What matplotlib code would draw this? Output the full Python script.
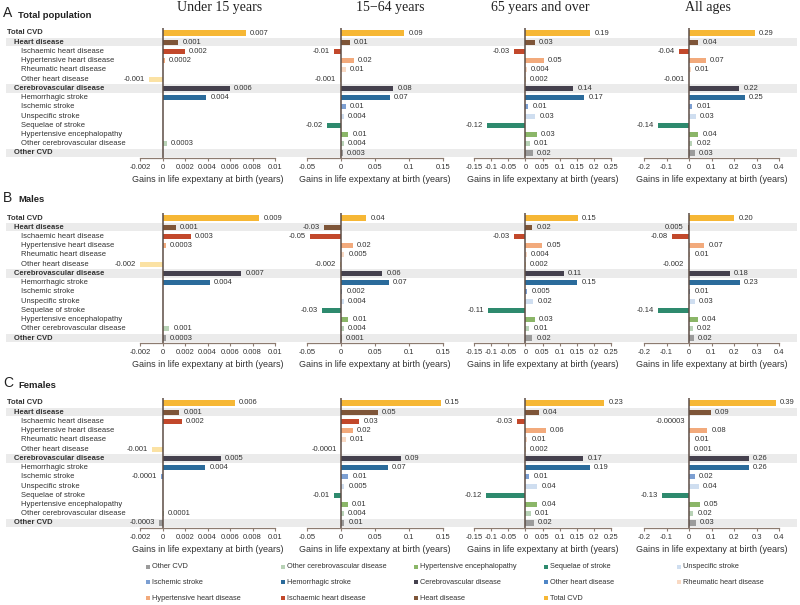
import matplotlib.pyplot as plt
from matplotlib.patches import Rectangle

plt.rcParams['font.family'] = ['Liberation Sans Narrow', 'Liberation Sans', 'DejaVu Sans']

W, H = 800, 605

causes = ['Total CVD', 'Heart disease', 'Ischaemic heart disease', 'Hypertensive heart disease',
          'Rheumatic heart disease', 'Other heart disease', 'Cerebrovascular disease',
          'Hemorrhagic stroke', 'Ischemic stroke', 'Unspecific stroke', 'Sequelae of stroke',
          'Hypertensive encephalopathy', 'Other cerebrovascular disease', 'Other CVD']
levels = [0, 1, 2, 2, 2, 2, 1, 2, 2, 2, 2, 2, 2, 1]
bold_rows = [0, 1, 6, 13]
band_rows = [1, 6, 13]
colors = ['#F6B735', '#7E5538', '#C2482B', '#F2AA7C', '#F9D9C3', '#FBE2A4', '#45414E',
          '#2B6B9B', '#7C9FD2', '#CFDEF0', '#2E8A6E', '#8BB668', '#B8D2B6', '#9B9B9B']

ages = ['Under 15 years', '15\u221264 years', '65 years and over', 'All ages']
sections = ['Total population', 'Males', 'Females']
letters = ['A', 'B', 'C']

# values (years) and printed labels, rows in the order of `causes`
tot_u15_v = [0.0074, 0.0014, 0.0020, 0.0002, None, -0.0012, 0.0060, 0.0039, None, None, None, None, 0.0004, None]
tot_u15_t = ['0.007', '0.001', '0.002', '0.0002', None, '-0.001', '0.006', '0.004', None, None, None, None, '0.0003', None]
tot_1564_v = [0.093, 0.013, -0.010, 0.019, 0.007, -0.001, 0.077, 0.072, 0.007, 0.004, -0.020, 0.011, 0.004, 0.003]
tot_1564_t = ['0.09', '0.01', '-0.01', '0.02', '0.01', '-0.001', '0.08', '0.07', '0.01', '0.004', '-0.02', '0.01', '0.004', '0.003']
tot_65_v = [0.190, 0.027, -0.034, 0.053, 0.004, 0.002, 0.140, 0.172, 0.008, 0.029, -0.113, 0.033, 0.013, 0.021]
tot_65_t = ['0.19', '0.03', '-0.03', '0.05', '0.004', '0.002', '0.14', '0.17', '0.01', '0.03', '-0.12', '0.03', '0.01', '0.02']
tot_all_v = [0.293, 0.041, -0.043, 0.074, 0.007, -0.001, 0.224, 0.249, 0.015, 0.031, -0.136, 0.041, 0.015, 0.027]
tot_all_t = ['0.29', '0.04', '-0.04', '0.07', '0.01', '-0.001', '0.22', '0.25', '0.01', '0.03', '-0.14', '0.04', '0.02', '0.03']

male_u15_v = [0.0086, 0.0012, 0.0025, 0.0003, None, -0.0020, 0.0070, 0.0042, None, None, None, None, 0.0006, 0.0003]
male_u15_t = ['0.009', '0.001', '0.003', '0.0003', None, '-0.002', '0.007', '0.004', None, None, None, None, '0.001', '0.0003']
male_1564_v = [0.037, -0.025, -0.046, 0.017, 0.005, -0.002, 0.061, 0.070, 0.002, 0.004, -0.028, 0.011, 0.004, 0.001]
male_1564_t = ['0.04', '-0.03', '-0.05', '0.02', '0.005', '-0.002', '0.06', '0.07', '0.002', '0.004', '-0.03', '0.01', '0.004', '0.001']
male_65_v = [0.153, 0.020, -0.034, 0.049, 0.004, 0.002, 0.112, 0.152, 0.005, 0.023, -0.108, 0.028, 0.012, 0.020]
male_65_t = ['0.15', '0.02', '-0.03', '0.05', '0.004', '0.002', '0.11', '0.15', '0.005', '0.02', '-0.11', '0.03', '0.01', '0.02']
male_all_v = [0.201, -0.004, -0.077, 0.068, 0.006, -0.002, 0.182, 0.227, 0.006, 0.027, -0.136, 0.038, 0.016, 0.022]
male_all_t = ['0.20', '0.005', '-0.08', '0.07', '0.01', '-0.002', '0.18', '0.23', '0.01', '0.03', '-0.14', '0.04', '0.02', '0.02']

fem_u15_v = [0.0064, 0.0015, 0.0017, None, None, -0.0009, 0.0052, 0.0038, -0.0001, None, None, None, 0.0001, -0.0003]
fem_u15_t = ['0.006', '0.001', '0.002', None, None, '-0.001', '0.005', '0.004', '-0.0001', None, None, None, '0.0001', '-0.0003']
fem_1564_v = [0.147, 0.054, 0.027, 0.017, 0.007, -0.0001, 0.088, 0.069, 0.011, 0.005, -0.011, 0.010, 0.004, 0.005]
fem_1564_t = ['0.15', '0.05', '0.03', '0.02', '0.01', '-0.0001', '0.09', '0.07', '0.01', '0.005', '-0.01', '0.01', '0.004', '0.01']
fem_65_v = [0.231, 0.039, -0.025, 0.060, 0.006, 0.002, 0.169, 0.188, 0.012, 0.035, -0.115, 0.035, 0.015, 0.024]
fem_65_t = ['0.23', '0.04', '-0.03', '0.06', '0.01', '0.002', '0.17', '0.19', '0.01', '0.04', '-0.12', '0.04', '0.01', '0.02']
fem_all_v = [0.387, 0.098, -0.00003, 0.081, 0.006, 0.001, 0.267, 0.267, 0.025, 0.044, -0.121, 0.049, 0.019, 0.031]
fem_all_t = ['0.39', '0.09', '-0.00003', '0.08', '0.01', '0.001', '0.26', '0.26', '0.02', '0.04', '-0.13', '0.05', '0.02', '0.03']

values = [[tot_u15_v, tot_1564_v, tot_65_v, tot_all_v],
          [male_u15_v, male_1564_v, male_65_v, male_all_v],
          [fem_u15_v, fem_1564_v, fem_65_v, fem_all_v]]
texts = [[tot_u15_t, tot_1564_t, tot_65_t, tot_all_t],
         [male_u15_t, male_1564_t, male_65_t, male_all_t],
         [fem_u15_t, fem_1564_t, fem_65_t, fem_all_t]]

xticks = [[-0.002, 0, 0.002, 0.004, 0.006, 0.008, 0.01],
          [-0.05, 0, 0.05, 0.1, 0.15],
          [-0.15, -0.1, -0.05, 0, 0.05, 0.1, 0.15, 0.2, 0.25],
          [-0.2, -0.1, 0, 0.1, 0.2, 0.3, 0.4]]

legend_order = ['Other CVD', 'Other cerebrovascular disease', 'Hypertensive encephalopathy',
                'Sequelae of stroke', 'Unspecific stroke', 'Ischemic stroke', 'Hemorrhagic stroke',
                'Cerebrovascular disease', 'Other heart disease', 'Rheumatic heart disease',
                'Hypertensive heart disease', 'Ischaemic heart disease', 'Heart disease', 'Total CVD']

fig = plt.figure(figsize=(W / 100, H / 100), dpi=100)


def add_ax(x0, x1, y0, y1):
    # axes placed in pixel coordinates (origin top-left)
    return fig.add_axes([x0 / W, 1 - y1 / H, (x1 - x0) / W, (y1 - y0) / H])


panel_x = [(140, 275), (307, 443), (474, 611), (644, 779)]
title_x = [220, 390, 540, 708]
row0_y = [33, 218, 403]
step = 120 / 13
spine_col = '#8C7B70'
txt_col = '#333333'

for s in range(3):
    top = row0_y[s] - step / 2
    bot = row0_y[s] + 13 * step + step / 2

    # full-width background with the grey bands
    bg = add_ax(6, 797, top, bot)
    bg.set_xlim(0, 1)
    bg.set_ylim(13.5, -0.5)
    bg.axis('off')
    for r in band_rows:
        bg.axhspan(r - 0.45, r + 0.45, color='#EBEBEB', lw=0)

    # row labels
    for r, name in enumerate(causes):
        fig.text((7 + 7 * levels[r]) / W, 1 - (row0_y[s] + r * step) / H, name,
                 fontsize=5.5, color=txt_col, va='center', ha='left',
                 fontweight='bold' if r in bold_rows else 'normal')

    fig.text(3 / W, 1 - (row0_y[s] - 20) / H, letters[s], fontsize=10, color='#222222', va='center')
    fig.text(18 / W, 1 - (row0_y[s] - 18) / H, sections[s], fontsize=6.8, fontweight='bold',
             color='#222222', va='center')

    for p in range(4):
        ax = add_ax(panel_x[p][0], panel_x[p][1], top, bot)
        ax.set_facecolor('none')
        ax.set_xlim(xticks[p][0], xticks[p][-1])
        ax.set_ylim(13.5, -0.5)
        vals = values[s][p]
        labs = texts[s][p]
        for r in range(len(causes)):
            v = vals[r]
            if v is not None:
                ax.barh(r, v, height=0.55, color=colors[r], lw=0)
            if labs[r] is not None:
                end = v if v is not None else 0
                side = 1 if end >= 0 else -1
                ax.annotate(labs[r], (end, r), xytext=(3 * side, 0), textcoords='offset points',
                            fontsize=5.5, color=txt_col, va='center',
                            ha='left' if side > 0 else 'right', annotation_clip=False)
        ax.axvline(0, color='#5C4D45', lw=1.1)
        for sp in ['left', 'right', 'top']:
            ax.spines[sp].set_visible(False)
        ax.spines['bottom'].set_color(spine_col)
        ax.spines['bottom'].set_linewidth(0.9)
        ax.set_yticks([])
        ax.set_xticks(xticks[p])
        ax.set_xticklabels(['{:g}'.format(t) for t in xticks[p]])
        ax.tick_params(axis='x', labelsize=5.5, length=2.5, width=0.8, color=spine_col,
                       pad=2, labelcolor=txt_col)
        ax.set_xlabel('Gains in life expextany at birth (years)', fontsize=6.5, color=txt_col,
                      labelpad=3)
        if s == 0:
            fig.text(title_x[p] / W, 1 - 8 / H, ages[p], fontsize=10,
                     family=['Liberation Serif', 'DejaVu Serif'], ha='center', va='center',
                     color='#222222')

# legend (the source shows a blue swatch for "Other heart disease")
leg_x = [148, 283, 416, 546, 679]
leg_y = [567, 582, 598]
leg_colors = dict(zip(causes, colors))
leg_colors['Other heart disease'] = '#4F86C6'
for i, name in enumerate(legend_order):
    cx = leg_x[i % 5]
    cy = leg_y[i // 5]
    fig.patches.append(Rectangle(((cx - 2) / W, 1 - (cy + 2) / H), 4 / W, 4 / H,
                                 transform=fig.transFigure, color=leg_colors[name], lw=0))
    fig.text((cx + 4) / W, 1 - cy / H, name, fontsize=5.3, color=txt_col, va='center', ha='left')

fig.savefig('out.png', dpi=100)
